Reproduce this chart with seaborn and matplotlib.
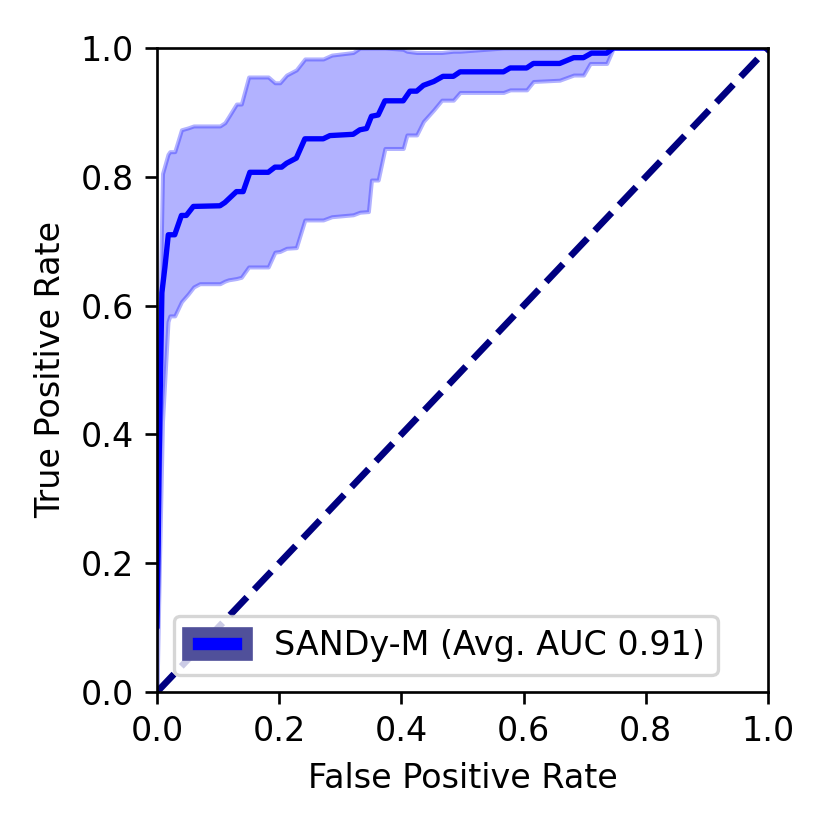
import numpy as np
import pandas as pd
import matplotlib
matplotlib.use("Agg")
import matplotlib.pyplot as plt
import matplotlib.patches as mpatches
import seaborn as sns

# Mean ROC curve
fpr_mean = [0, 0.002, 0.003, 0.005, 0.008, 0.013, 0.0185, 0.029, 0.040, 0.048,
            0.0595, 0.103, 0.111, 0.130, 0.141, 0.152, 0.182, 0.193, 0.204, 0.212,
            0.228, 0.242, 0.272, 0.283, 0.321, 0.332, 0.343, 0.351, 0.362, 0.373,
            0.403, 0.414, 0.425, 0.436, 0.453, 0.468, 0.485, 0.496, 0.567, 0.578,
            0.605, 0.616, 0.659, 0.682, 0.698, 0.711, 0.736, 0.747, 1.0]
tpr_mean = [0.1, 0.23, 0.33, 0.45, 0.62, 0.66, 0.71, 0.71, 0.74, 0.74,
            0.754, 0.755, 0.76, 0.777, 0.777, 0.807, 0.807, 0.815, 0.815, 0.821,
            0.829, 0.859, 0.859, 0.864, 0.866, 0.873, 0.875, 0.894, 0.896, 0.918,
            0.918, 0.933, 0.933, 0.942, 0.948, 0.956, 0.956, 0.963, 0.963, 0.969,
            0.969, 0.976, 0.976, 0.985, 0.985, 0.992, 0.992, 1.0, 1.0]

# +/- 1 std band
fpr_band = [0, 0.004, 0.009, 0.018, 0.021, 0.029, 0.040, 0.051, 0.060, 0.070,
            0.103, 0.111, 0.117, 0.130, 0.138, 0.150, 0.182, 0.193, 0.201, 0.212,
            0.228, 0.242, 0.272, 0.286, 0.321, 0.332, 0.346, 0.351, 0.362, 0.373,
            0.403, 0.409, 0.425, 0.436, 0.453, 0.466, 0.485, 0.496, 0.567, 0.578,
            0.605, 0.616, 0.659, 0.682, 0.698, 0.709, 0.736, 0.747, 1.0]
tpr_upper = [0.15, 0.55, 0.805, 0.835, 0.839, 0.839, 0.873, 0.876, 0.879, 0.879,
             0.879, 0.884, 0.893, 0.913, 0.913, 0.955, 0.955, 0.946, 0.946, 0.958,
             0.966, 0.983, 0.983, 0.989, 0.993, 1.0, 1.0, 1.0, 1.0, 1.0,
             0.998, 0.995, 0.993, 0.993, 0.993, 0.993, 0.995, 0.995, 1.0, 1.0,
             1.0, 1.0, 1.0, 1.0, 1.0, 1.0, 1.0, 1.0, 1.0]
tpr_lower = [0.0, 0.2, 0.42, 0.575, 0.584, 0.584, 0.606, 0.618, 0.629, 0.634,
             0.634, 0.638, 0.640, 0.642, 0.644, 0.660, 0.660, 0.683, 0.684, 0.689,
             0.690, 0.733, 0.733, 0.738, 0.741, 0.745, 0.746, 0.795, 0.795, 0.844,
             0.844, 0.865, 0.865, 0.886, 0.904, 0.919, 0.919, 0.931, 0.931, 0.935,
             0.935, 0.948, 0.950, 0.958, 0.958, 0.976, 0.976, 1.0, 1.0]

chance = [0, 1]
label = 'SANDy-M (Avg. AUC 0.91)'

sns.set_style("ticks", {"axes.edgecolor": "black", "xtick.color": "black",
                        "ytick.color": "black", "text.color": "black",
                        "axes.labelcolor": "black"})
plt.rcParams['font.family'] = ['DejaVu Sans']

mean_df = pd.DataFrame({'fpr': fpr_mean, 'tpr': tpr_mean})
diag_df = pd.DataFrame({'fpr': chance, 'tpr': chance})

fig, ax = plt.subplots(figsize=(830 / 240, 830 / 240), dpi=240)
fig.subplots_adjust(left=157 / 830, right=768 / 830, top=1 - 48 / 830, bottom=1 - 692 / 830)

ax.fill_between(fpr_band, tpr_lower, tpr_upper, color='blue', alpha=0.3, linewidth=1.2)
sns.lineplot(data=mean_df, x='fpr', y='tpr', color='blue', lw=1.6,
             sort=False, estimator=None, ax=ax)
sns.lineplot(data=diag_df, x='fpr', y='tpr', color='navy', lw=2,
             linestyle='--', sort=False, estimator=None, ax=ax)

ax.set_xlim(0, 1)
ax.set_ylim(0, 1)
ax.set_xlabel('False Positive Rate')
ax.set_ylabel('True Positive Rate')

handle = mpatches.Patch(facecolor='blue', edgecolor='#50509a', linewidth=3.2)
ax.legend([handle], [label], loc='lower left', frameon=True, fancybox=True,
          framealpha=0.8, edgecolor='0.8', handlelength=1.8)

fig.savefig('out.png', dpi=240)
